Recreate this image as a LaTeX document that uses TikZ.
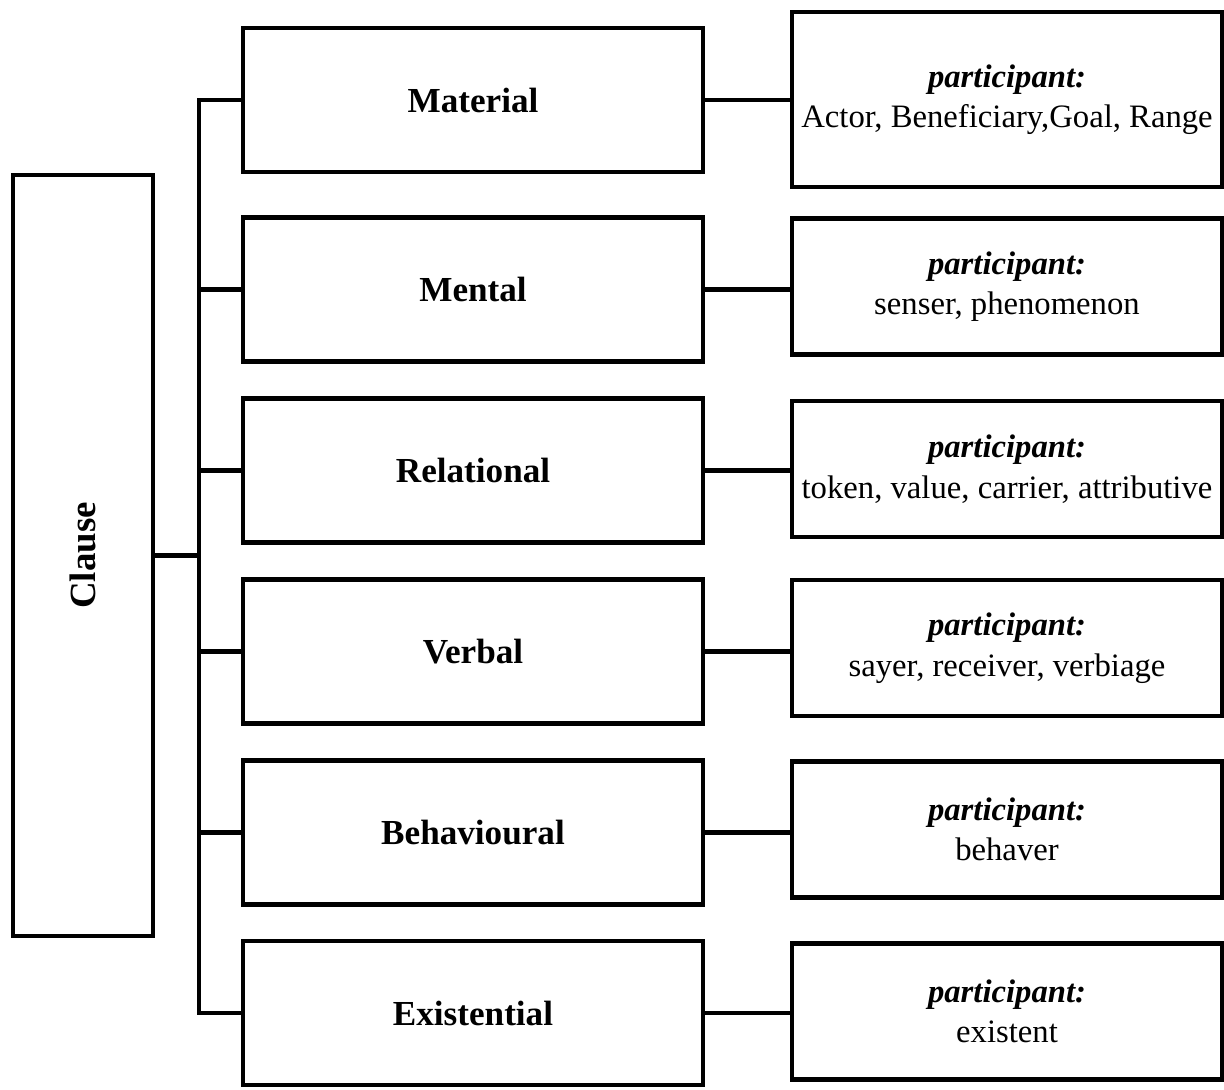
\documentclass[tikz,border=0pt]{standalone}
\usepackage{fontspec}
\setmainfont{Liberation Serif}
\usepackage{tikz}
\usetikzlibrary{positioning}

\begin{document}
\begin{tikzpicture}[
    box/.style={draw, line width=2.6pt, inner sep=0pt},
    typebox/.style={box, minimum width=9.2cm, minimum height=2.88cm, font=\fontsize{20}{24}\selectfont\bfseries},
    partbox/.style={box, minimum width=8.6cm, minimum height=2.72cm, align=center, font=\fontsize{18.6}{23}\selectfont},
    link/.style={line width=2.6pt}
]
            \useasboundingbox (0,0) rectangle (24.48,-21.8);

            \node[box, minimum width=2.8cm, minimum height=15.22cm] (clause) at (1.66,-11.11) {};
            \node[rotate=90, font=\fontsize{21}{25}\selectfont\bfseries] (clausetext) at (clause.center) {Clause};

            \node[typebox] (material) at (9.46,-2.00) {Material};
            \node[typebox] (mental) at (9.46,-5.79) {Mental};
            \node[typebox] (relational) at (9.46,-9.41) {Relational};
            \node[typebox] (verbal) at (9.46,-13.03) {Verbal};
            \node[typebox] (behavioural) at (9.46,-16.65) {Behavioural};
            \node[typebox] (existential) at (9.46,-20.26) {Existential};

            \node[partbox, minimum height=3.5cm] (pmaterial) at (20.14,-1.99) {\textbf{\textit{participant:}}\\Actor, Beneficiary,Goal, Range};
            \node[partbox] (pmental) at (20.14,-5.73) {\textbf{\textit{participant:}}\\senser, phenomenon};
            \node[partbox] (prelational) at (20.14,-9.38) {\textbf{\textit{participant:}}\\token, value, carrier, attributive};
            \node[partbox] (pverbal) at (20.14,-12.96) {\textbf{\textit{participant:}}\\sayer, receiver, verbiage};
            \node[partbox] (pbehavioural) at (20.14,-16.59) {\textbf{\textit{participant:}}\\behaver};
            \node[partbox] (pexistential) at (20.14,-20.23) {\textbf{\textit{participant:}}\\existent};

            % spine
            \coordinate (top) at (3.98,-2.00);
            \coordinate (bottom) at (3.98,-20.26);
            \coordinate (join) at (3.98,-11.11);
            \draw[link] (material.west) -- (top) -- (bottom) -- (existential.west);
            \draw[link] (clause.east) -- (join);

            \draw[link] (mental.west) -- (mental.west -| top);
            \draw[link] (relational.west) -- (relational.west -| top);
            \draw[link] (verbal.west) -- (verbal.west -| top);
            \draw[link] (behavioural.west) -- (behavioural.west -| top);

            \draw[link] (material.east) -- (material.east -| pmaterial.west);
            \draw[link] (mental.east) -- (mental.east -| pmental.west);
            \draw[link] (relational.east) -- (relational.east -| prelational.west);
            \draw[link] (verbal.east) -- (verbal.east -| pverbal.west);
            \draw[link] (behavioural.east) -- (behavioural.east -| pbehavioural.west);
            \draw[link] (existential.east) -- (existential.east -| pexistential.west);
        \end{tikzpicture}
\end{document}
